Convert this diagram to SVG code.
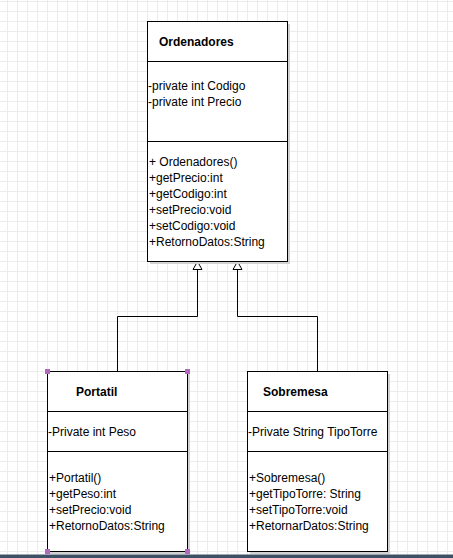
<svg xmlns="http://www.w3.org/2000/svg" width="453" height="558" viewBox="0 0 453 558">
<defs>
<pattern id="grid" x="7" y="1" width="10" height="10" patternUnits="userSpaceOnUse">
<path d="M0.5 0V10M0 0.5H10" fill="none" stroke="#ececec" stroke-width="1"/>
</pattern>
</defs>
<style>
.box{fill:#fff;stroke:#000;stroke-width:1}
.sh{fill:#d3d3d3}
.div{stroke:#000;stroke-width:1}
.t{font-family:"Liberation Sans",Arial,sans-serif;font-size:12px;fill:#000}
.b{font-weight:bold}
.edge{fill:none;stroke:#000;stroke-width:1}
.head{fill:#fff;stroke:#000;stroke-width:1}
.hd{fill:#b067bd}
</style>
<rect width="453" height="558" fill="#fff"/>
<rect width="453" height="558" fill="url(#grid)"/>

<g id="connectors">
<path class="edge" d="M117.5 371V316.5H197.5V269"/>
<path class="edge" d="M317.5 371V316.5H237.5V269"/>
<path class="head" d="M197.5 261.5L202 269.5H193Z"/>
<path class="head" d="M237.5 261.5L242 269.5H233Z"/>
</g>

<g id="Ordenadores">
<rect class="sh" x="150" y="24" width="140" height="240"/>
<rect class="box" x="147.5" y="21.5" width="140" height="240"/>
<line class="div" x1="147.5" y1="61.5" x2="287.5" y2="61.5"/>
<line class="div" x1="147.5" y1="141.5" x2="287.5" y2="141.5"/>
<text class="t b" x="159" y="46">Ordenadores</text>
<text class="t" x="148" y="90">-private int Codigo</text>
<text class="t" x="148" y="106">-private int Precio</text>
<text class="t" x="149" y="166">+ Ordenadores()</text>
<text class="t" x="149" y="182">+getPrecio:int</text>
<text class="t" x="149" y="198">+getCodigo:int</text>
<text class="t" x="149" y="214">+setPrecio:void</text>
<text class="t" x="149" y="230">+setCodigo:void</text>
<text class="t" x="149" y="246">+RetornoDatos:String</text>
</g>

<g id="Portatil">
<rect class="sh" x="50" y="374" width="140" height="180"/>
<rect class="box" x="47.5" y="371.5" width="140" height="180"/>
<line class="div" x1="47.5" y1="411.5" x2="187.5" y2="411.5"/>
<line class="div" x1="47.5" y1="451.5" x2="187.5" y2="451.5"/>
<text class="t b" x="76" y="396">Portatil</text>
<text class="t" x="48" y="436">-Private int Peso</text>
<text class="t" x="49" y="482">+Portatil()</text>
<text class="t" x="49" y="498">+getPeso:int</text>
<text class="t" x="49" y="514">+setPrecio:void</text>
<text class="t" x="49" y="530">+RetornoDatos:String</text>
<rect class="hd" x="45" y="369" width="5" height="5"/>
<rect class="hd" x="185" y="369" width="5" height="5"/>
<rect class="hd" x="45" y="549" width="5" height="5"/>
<rect class="hd" x="185" y="549" width="5" height="5"/>
</g>

<g id="Sobremesa">
<rect class="sh" x="250" y="374" width="140" height="180"/>
<rect class="box" x="247.5" y="371.5" width="140" height="180"/>
<line class="div" x1="247.5" y1="411.5" x2="387.5" y2="411.5"/>
<line class="div" x1="247.5" y1="451.5" x2="387.5" y2="451.5"/>
<text class="t b" x="263" y="396">Sobremesa</text>
<text class="t" x="248" y="436">-Private String TipoTorre</text>
<text class="t" x="249" y="482">+Sobremesa()</text>
<text class="t" x="249" y="498">+getTipoTorre: String</text>
<text class="t" x="249" y="514">+setTipoTorre:void</text>
<text class="t" x="249" y="530">+RetornarDatos:String</text>
</g>

<rect x="0" y="554.5" width="453" height="3.5" fill="#3e5066"/>
</svg>
